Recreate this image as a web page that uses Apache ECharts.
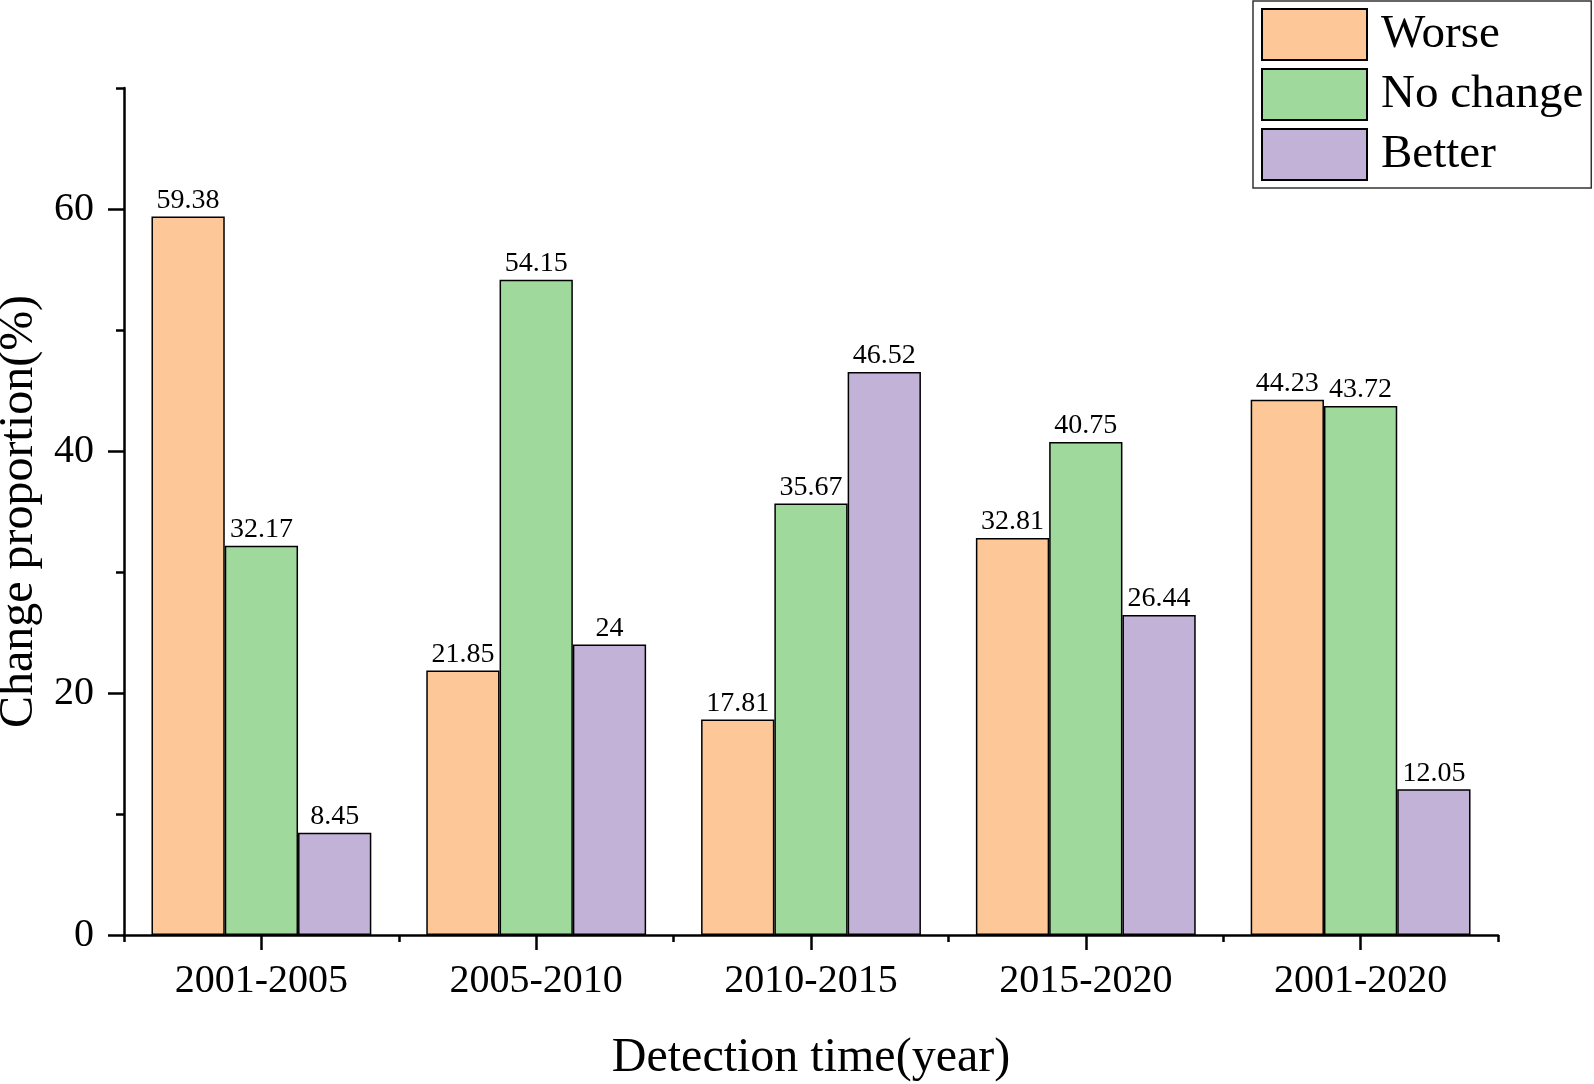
<!DOCTYPE html>
<html>
<head>
<meta charset="utf-8">
<script src="https://cdn.jsdelivr.net/npm/echarts@6/dist/echarts.min.js"></script>
<style>html,body{margin:0;padding:0;background:#fff;}#c{width:1594px;height:1084px;}</style>
</head>
<body>
<div id="c"></div>
<script>
const categories = ['2001-2005', '2005-2010', '2010-2015', '2015-2020', '2001-2020'];
const worse = [59.38, 21.85, 17.81, 32.81, 44.23];
const noChange = [32.17, 54.15, 35.67, 40.75, 43.72];
const better = [8.45, 24, 46.52, 26.44, 12.05];
const yTickLabels = [0, 20, 40, 60];
const seriesNames = ['Worse', 'No change', 'Better'];
const seriesColors = ['#FEC797', '#9FD99C', '#C3B2D8'];

const FONT = 'Liberation Serif';
const chart = echarts.init(document.getElementById('c'));
const lineStyle = { color: '#000', width: 2.5 };

function barSeries(name, data, color) {
  return {
    name: name, type: 'bar', data: data, xAxisIndex: 0, yAxisIndex: 0,
    barGap: '0%', barCategoryGap: '20%',
    itemStyle: { color: color, borderColor: '#000', borderWidth: 1.5 },
    label: { show: true, position: 'top', distance: 2, color: '#000', fontFamily: FONT, fontSize: 28 },
    emphasis: { disabled: true }
  };
}

chart.setOption({
  animation: false,
  backgroundColor: '#fff',
  grid: { left: 124, right: 96, top: 88, bottom: 149, containLabel: false, outerBoundsMode: 'none' },
  legend: {
    orient: 'vertical', left: 1253, top: 1,
    data: seriesNames.map(function (n) { return { name: n, icon: 'rect' }; }),
    itemWidth: 105, itemHeight: 51, itemGap: 7,
    padding: [7, 8, 7, 8],
    borderColor: '#333', borderWidth: 1.5,
    textStyle: { fontFamily: FONT, fontSize: 47, lineHeight: 51, color: '#000', padding: [0, 0, 0, 9] },
    selectedMode: false
  },
  xAxis: [
    {
      type: 'category', data: categories, position: 'bottom',
      axisLine: { show: true, lineStyle: lineStyle },
      axisTick: { show: true, alignWithLabel: true, length: 15, lineStyle: lineStyle },
      axisLabel: { fontFamily: FONT, fontSize: 40, color: '#000', margin: 26 },
      name: 'Detection time(year)', nameLocation: 'middle', nameGap: 99,
      nameTextStyle: { fontFamily: FONT, fontSize: 48, color: '#000' }
    },
    {
      type: 'category', data: categories, position: 'bottom',
      axisLine: { show: false },
      axisTick: { show: true, length: 7, lineStyle: lineStyle },
      axisLabel: { show: false }
    }
  ],
  yAxis: [
    {
      type: 'value', min: 0, max: 70, interval: 10, position: 'left',
      axisLine: { show: true, lineStyle: lineStyle },
      axisTick: { show: true, length: 8, lineStyle: lineStyle },
      axisLabel: { fontFamily: FONT, fontSize: 40, color: '#000', margin: 30, customValues: yTickLabels },
      splitLine: { show: false },
      name: 'Change proportion(%)', nameLocation: 'middle', nameGap: 75,
      nameTextStyle: { fontFamily: FONT, fontSize: 48, color: '#000' }
    },
    {
      type: 'value', min: 0, max: 70, interval: 10, position: 'left',
      axisLine: { show: false },
      axisTick: { show: true, length: 16, lineStyle: lineStyle, customValues: yTickLabels },
      axisLabel: { show: false },
      splitLine: { show: false }
    }
  ],
  series: [
    barSeries(seriesNames[0], worse, seriesColors[0]),
    barSeries(seriesNames[1], noChange, seriesColors[1]),
    barSeries(seriesNames[2], better, seriesColors[2])
  ]
});
</script>
</body>
</html>
